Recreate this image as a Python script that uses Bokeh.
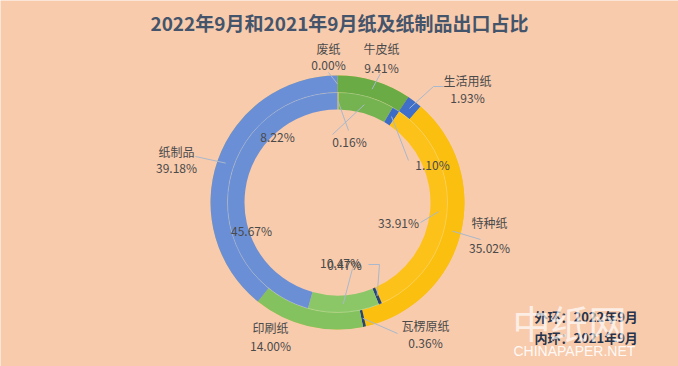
import math
from bokeh.plotting import figure
from bokeh.models import Range1d, ColumnDataSource
from bokeh.core.properties import value
from bokeh.embed import file_html
from bokeh.resources import INLINE

# ---------------- data ----------------
categories = ["废纸", "牛皮纸", "生活用纸", "特种纸", "瓦楞原纸", "印刷纸", "纸制品"]
outer_2022 = [0.00, 9.41, 1.93, 35.02, 0.36, 14.00, 39.18]   # 2022年9月 (outer ring)
inner_2021 = [0.16, 8.22, 1.10, 33.91, 0.47, 10.47, 45.67]   # 2021年9月 (inner ring)
title = "2022年9月和2021年9月纸及纸制品出口占比"

# ---------------- styles ----------------
W, H = 678, 366
BG = "#f8cbad"
FONT = "Noto Sans CJK SC"
outer_colors = ["#f2c230", "#6aab45", "#3f6fc9", "#fbbf10", "#264478", "#84c260", "#6a8fd6"]
inner_colors = ["#f4cb40", "#74b350", "#3d6cc6", "#fcc21a", "#264478", "#8cc767", "#6b8fd5"]
LABEL = "#4a4a4a"
LEAD = "#a9b8cc"

CX, CY_PX = 337, 202
R_OUT, R_MID, R_IN = 127, 110, 93


def Y(py):
    return H - py


CY = Y(CY_PX)

p = figure(width=W, height=H, output_backend="svg", toolbar_location=None,
           x_range=Range1d(0, W), y_range=Range1d(0, H),
           min_border=0, background_fill_color=BG, border_fill_color=BG,
           outline_line_color=None,
           styles={"position": "absolute", "top": "0px", "left": "0px"})
p.axis.visible = False
p.xaxis.visible = False
p.yaxis.visible = False
p.grid.visible = False


def ring(vals):
    tot = float(sum(vals))
    starts, ends, mids = [], [], []
    c = 0.0
    for v in vals:
        a0 = math.pi / 2 - 2 * math.pi * c / tot
        c += v
        a1 = math.pi / 2 - 2 * math.pi * c / tot
        starts.append(a0)
        ends.append(a1)
        mids.append((a0 + a1) / 2)
    return starts, ends, mids


os_, oe, om = ring(outer_2022)
is_, ie, im = ring(inner_2021)

p.annular_wedge(x=CX, y=CY, inner_radius=R_MID, outer_radius=R_OUT,
                start_angle=os_, end_angle=oe, direction="clock",
                color=outer_colors, line_color=None)
p.annular_wedge(x=CX, y=CY, inner_radius=R_IN, outer_radius=R_MID,
                start_angle=is_, end_angle=ie, direction="clock",
                color=inner_colors, line_color=None)
# faint separator between the rings
p.circle(x=[CX], y=[CY], radius=R_MID, fill_color=None,
         line_color="white", line_alpha=0.22, line_width=1)


def anchor(mid, r):
    return CX + r * math.cos(mid), CY + r * math.sin(mid)


# ---------- outer labels (name + value) ----------
outer_label_pos = {  # layout: (x, name_py, value_py)
    "废纸": (328, 48, 64),
    "牛皮纸": (381, 48, 67),
    "生活用纸": (467, 80, 97),
    "特种纸": (489, 222, 247),
    "瓦楞原纸": (425, 325, 342),
    "印刷纸": (270, 327, 345),
    "纸制品": (176, 151, 167),
}
outer_lead_end = {  # layout: elbow points in pixel coords
    "废纸": [(328, 72)],
    "牛皮纸": [(380, 73)],
    "生活用纸": [(433, 86), (443, 86)],
    "特种纸": [(480, 239)],
    "瓦楞原纸": [(397, 333)],
    "纸制品": [(195, 156)],
}
names, vals_txt, lx, ly_n, ly_v = [], [], [], [], []
for i, c in enumerate(categories):
    x, pn, pv = outer_label_pos[c]
    names.append(c)
    vals_txt.append(f"{outer_2022[i]:.2f}%")
    lx.append(x)
    ly_n.append(Y(pn))
    ly_v.append(Y(pv))

xs, ys = [], []
for i, c in enumerate(categories):
    if c in outer_lead_end:
        ax, ay = anchor(om[i], (R_MID + R_OUT) / 2)
        px = [ax] + [q[0] for q in outer_lead_end[c]]
        py = [ay] + [Y(q[1]) for q in outer_lead_end[c]]
        xs.append(px)
        ys.append(py)

inner_label_pos = {
    "废纸": (349, 141),
    "牛皮纸": (277, 136),
    "生活用纸": (432, 164),
    "特种纸": (398, 222),
    "瓦楞原纸": (344, 264),
    "印刷纸": (340, 262),
    "纸制品": (251, 230),
}
inner_lead_end = {
    "废纸": [(348, 130)],
    "牛皮纸": [(332, 134)],
    "生活用纸": [(408, 160)],
    "特种纸": [(420, 222)],
    "瓦楞原纸": [(379, 264), (368, 264)],
    "印刷纸": [(352, 268)],
}
for i, c in enumerate(categories):
    if c in inner_lead_end:
        ax, ay = anchor(im[i], (R_IN + R_MID) / 2)
        px = [ax] + [q[0] for q in inner_lead_end[c]]
        py = [ay] + [Y(q[1]) for q in inner_lead_end[c]]
        xs.append(px)
        ys.append(py)

p.multi_line(xs=xs, ys=ys, line_color=LEAD, line_width=1)

src_o = ColumnDataSource(dict(x=lx, yn=ly_n, yv=ly_v, n=names, v=vals_txt))
p.text(x="x", y="yn", text="n", source=src_o, text_align="center",
       text_baseline="middle", text_font=value(FONT), text_font_size="12px",
       text_color=LABEL)
p.text(x="x", y="yv", text="v", source=src_o, text_align="center",
       text_baseline="middle", text_font=value(FONT), text_font_size="12px",
       text_color=LABEL)

ix = [inner_label_pos[c][0] for c in categories]
iy = [Y(inner_label_pos[c][1]) for c in categories]
itxt = [f"{v:.2f}%" for v in inner_2021]
p.text(x=ix, y=iy, text=itxt, text_align="center", text_baseline="middle",
       text_font=value(FONT), text_font_size="12px", text_color=LABEL)

# ---------- title ----------
p.text(x=[W / 2], y=[Y(22)], text=[title], text_align="center",
       text_baseline="middle", text_font=value(FONT), text_font_size="19px",
       text_font_style="bold", text_color="#44546a")

# ---------- ring legend ----------
p.text(x=[534, 534], y=[Y(316), Y(337)], text=["外环：2022年9月", "内环：2021年9月"],
       text_align="left", text_baseline="middle", text_font=value(FONT),
       text_font_size="13px", text_font_style="bold", text_color="#26334a")

# ---------- watermark ----------
p.text(x=[512], y=[Y(321)], text=["中纸网"], text_align="left",
       text_baseline="middle", text_font=value(FONT), text_font_size="38px",
       text_color="white", text_alpha=0.7)
p.text(x=[513], y=[Y(350)], text=["CHINAPAPER.NET"], text_align="left",
       text_baseline="middle", text_font=value("Liberation Sans"),
       text_font_size="14px", text_color="white", text_alpha=0.9)

open("out.html", "w").write(file_html(p, INLINE))
